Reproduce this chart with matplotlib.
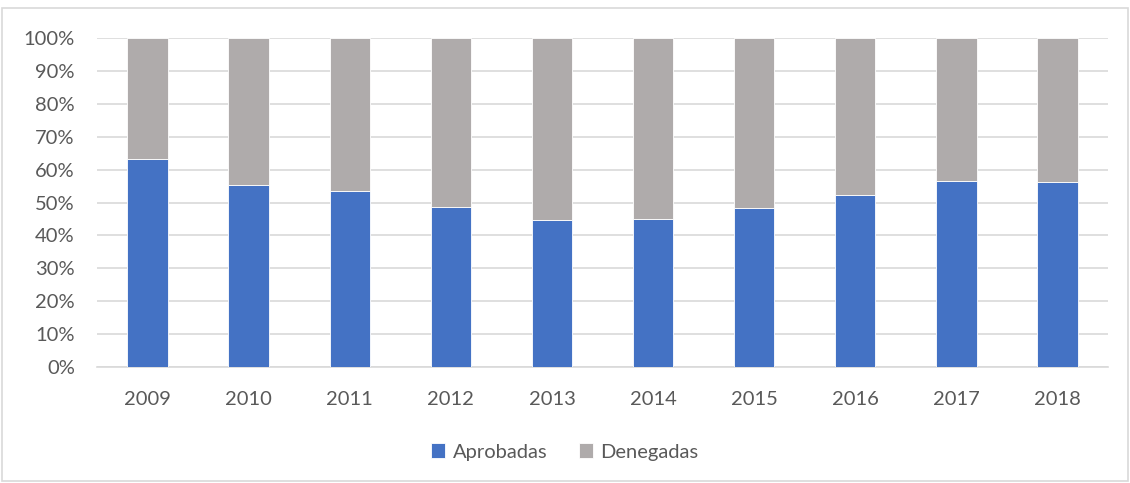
import matplotlib
matplotlib.use("Agg")
import matplotlib.pyplot as plt
from matplotlib.patches import Rectangle
from matplotlib.ticker import FuncFormatter
import numpy as np

years = ["2009", "2010", "2011", "2012", "2013", "2014", "2015", "2016", "2017", "2018"]
aprobadas = [63.1, 55.2, 53.4, 48.7, 44.8, 45.0, 48.3, 52.2, 56.5, 56.2]
denegadas = [100 - a for a in aprobadas]

BLUE = "#4472C4"
GRAY = "#AFABAB"
TXT = "#595959"
GRID = "#D9D9D9"

plt.rcParams['font.family'] = ['Lato', 'DejaVu Sans']

W, H = 1130, 483
fig = plt.figure(figsize=(W / 100, H / 100), dpi=100)
fig.patch.set_facecolor("white")
fig.patches.append(Rectangle((2 / W, 2 / H), (W - 4) / W, (H - 10) / H,
                             transform=fig.transFigure, fill=False,
                             edgecolor=GRID, linewidth=1.2))

ax = fig.add_axes([97 / W, (H - 367) / H, (1108 - 97) / W, (367 - 38) / H])
x = np.arange(len(years))
ax.bar(x, aprobadas, width=0.4, color=BLUE, edgecolor="white", linewidth=0.6,
       label="Aprobadas", zorder=3)
ax.bar(x, denegadas, width=0.4, bottom=aprobadas, color=GRAY, edgecolor="white",
       linewidth=0.6, label="Denegadas", zorder=3)

ax.set_xlim(-0.5, len(years) - 0.5)
ax.set_ylim(0, 100)
ax.set_yticks(np.arange(0, 101, 10))
ax.yaxis.set_major_formatter(FuncFormatter(lambda v, p: f"{int(v)}%"))
ax.set_xticks(x)
ax.set_xticklabels(years)
ax.grid(axis="y", color=GRID, linewidth=1.2, zorder=0)
for s in ["top", "right", "left"]:
    ax.spines[s].set_visible(False)
ax.spines["bottom"].set_color(GRID)
ax.spines["bottom"].set_linewidth(1.2)
ax.tick_params(axis="both", length=0, labelsize=14.5, labelcolor=TXT)
ax.tick_params(axis="y", pad=16)
ax.tick_params(axis="x", pad=17)

leg = fig.legend(loc="center", bbox_to_anchor=(0.5, (H - 452) / H), ncol=2,
                 frameon=False, fontsize=14.5, handlelength=0.7, handleheight=0.7,
                 handletextpad=0.35, columnspacing=1.6)
for t in leg.get_texts():
    t.set_color(TXT)

fig.savefig("out.png", dpi=100, facecolor="white")
